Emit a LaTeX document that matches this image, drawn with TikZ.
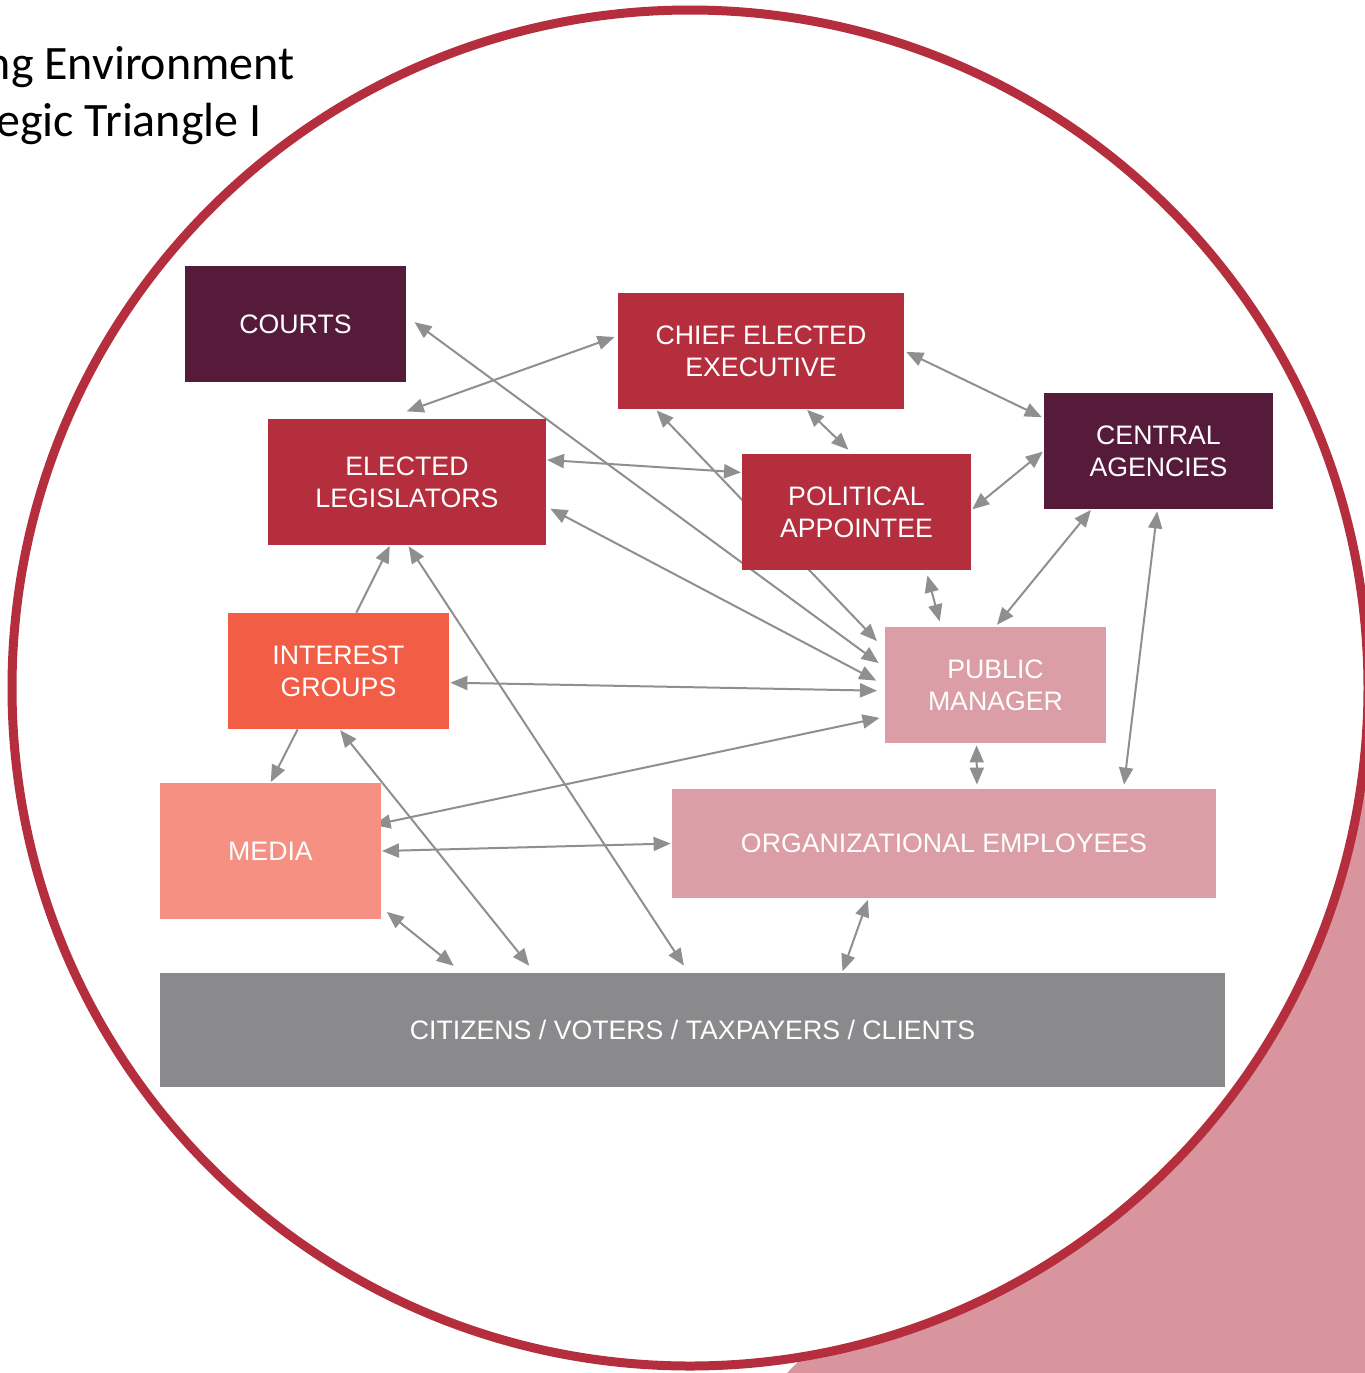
\documentclass[tikz,border=0pt]{standalone}
\usepackage{fontspec}
\setmainfont{Liberation Sans}
\newfontfamily\titlefont{Carlito}
\usetikzlibrary{arrows.meta,backgrounds}
\definecolor{plum}{HTML}{561B3B}
\definecolor{crimson}{HTML}{B52E3E}
\definecolor{tomato}{HTML}{F15D45}
\definecolor{salmon}{HTML}{F59083}
\definecolor{rose}{HTML}{DB9EA6}
\definecolor{slate}{HTML}{8A8A8C}
\definecolor{linkgray}{HTML}{8F8F8F}
\definecolor{blush}{HTML}{D9959D}

\begin{document}
\begin{tikzpicture}[x=0.5pt,y=-0.5pt,
        box/.style={rectangle, inner sep=0pt, align=center, text=white, font=\fontsize{13.35}{16}\selectfont},
        heading/.style={anchor=base east, inner sep=0pt, font=\titlefont\fontsize{24}{28}\selectfont},
        link/.style={draw=linkgray, line width=1pt, >={Triangle[length=8.5pt,width=7pt]}, <->},
        oneway/.style={link, ->}]
    \useasboundingbox (0,0) rectangle (1365,1373);
    \node[heading] (heading1) at (295,79) {ng Environment};
    \node[heading] (heading2) at (262,136) {egic Triangle I};
    % boxes
    \node[box, fill=plum, minimum width=110.5pt, minimum height=58pt] (courts) at (295.5,324) {COURTS};
    \node[box, fill=crimson, minimum width=143pt, minimum height=58pt] (chief) at (761,351) {CHIEF ELECTED\\EXECUTIVE};
    \node[box, fill=plum, minimum width=114.5pt, minimum height=58pt] (central) at (1158.5,451) {CENTRAL\\AGENCIES};
    \node[box, fill=crimson, minimum width=139pt, minimum height=63pt] (legis) at (407,482) {ELECTED\\LEGISLATORS};
    \node[box, fill=crimson, minimum width=114.5pt, minimum height=58pt] (polit) at (856.5,512) {POLITICAL\\APPOINTEE};
    \node[box, fill=tomato, minimum width=110.5pt, minimum height=58pt] (interest) at (338.5,671) {INTEREST\\GROUPS};
    \node[box, fill=rose, minimum width=110.5pt, minimum height=58pt] (pubman) at (995.5,685) {PUBLIC\\MANAGER};
    \node[box, fill=salmon, minimum width=110.5pt, minimum height=68pt] (media) at (270.5,851) {MEDIA};
    \node[box, fill=rose, minimum width=272pt, minimum height=54.5pt] (orgemp) at (944,843.5) {ORGANIZATIONAL EMPLOYEES};
    \node[box, fill=slate, minimum width=532.5pt, minimum height=57pt] (citizens) at (692.5,1030) {CITIZENS / VOTERS / TAXPAYERS / CLIENTS};
    \begin{scope}[on background layer]
        \fill[blush] (787,1373) -- (1365,1373) -- (1365,790) -- cycle;
        \draw[crimson, line width=4.5pt, fill=white] (690,688) circle[radius=678];
        % links
        \draw[link, shorten <=5pt, shorten >=3.7pt] (courts.4) -- (pubman.171);
        \draw[link, shorten <=10.8pt, shorten >=1.6pt] (legis.108) -- (chief.174);
        \draw[link, shorten <=1pt, shorten >=1pt] (chief.0) -- (central.164);
        \draw[link, shorten <=0.3pt, shorten >=2.8pt] (chief.-52) -- (polit.94);
        \draw[link, shorten <=0.7pt, shorten >=5.5pt] (chief.209) -- (pubman.162);
        \draw[link, shorten <=0.3pt, shorten >=0.3pt] (legis.9) -- (polit.161);
        \draw[link, shorten <=2.2pt, shorten >=4.7pt] (legis.-10) -- (pubman.180);
        \draw[link, shorten <=0.5pt, shorten >=0.5pt] (central.180) -- (polit.1);
        \draw[link, shorten <=0.3pt, shorten >=1.2pt] (central.-139) -- (pubman.90);
        \draw[link, shorten <=1pt, shorten >=2pt] (central.-91) -- (orgemp.17);
        \draw[link, shorten <=2.6pt, shorten >=2.7pt] (polit.-40) -- (pubman.133);
        \draw[oneway, shorten >=0.3pt] (interest.73) -- (legis.-105);
        \draw[link, shorten <=0.5pt, shorten >=4.2pt] (legis.-89) -- (citizens.94);
        \draw[link, shorten <=0.5pt, shorten >=3.8pt] (interest.-6) -- (pubman.-177);
        \draw[oneway, shorten >=0.3pt] (interest.-125) -- (media.90);
        \draw[link, shorten <=0.5pt, shorten >=4.4pt] (interest.-89) -- (citizens.160);
        \draw[link, shorten <=-4pt, shorten >=2.6pt] (media.14) -- (pubman.-164);
        \draw[link, shorten <=0.3pt, shorten >=0.5pt] (media.0) -- (orgemp.180);
        \draw[link, shorten <=3.5pt, shorten >=5.4pt] (media.-27) -- (citizens.166);
        \draw[link, shorten <=1pt, shorten >=2pt] (pubman.-108) -- (orgemp.59);
        \draw[link, shorten <=0.8pt, shorten >=0.7pt] (orgemp.-144) -- (citizens.21);
    \end{scope}
\end{tikzpicture}
\end{document}
